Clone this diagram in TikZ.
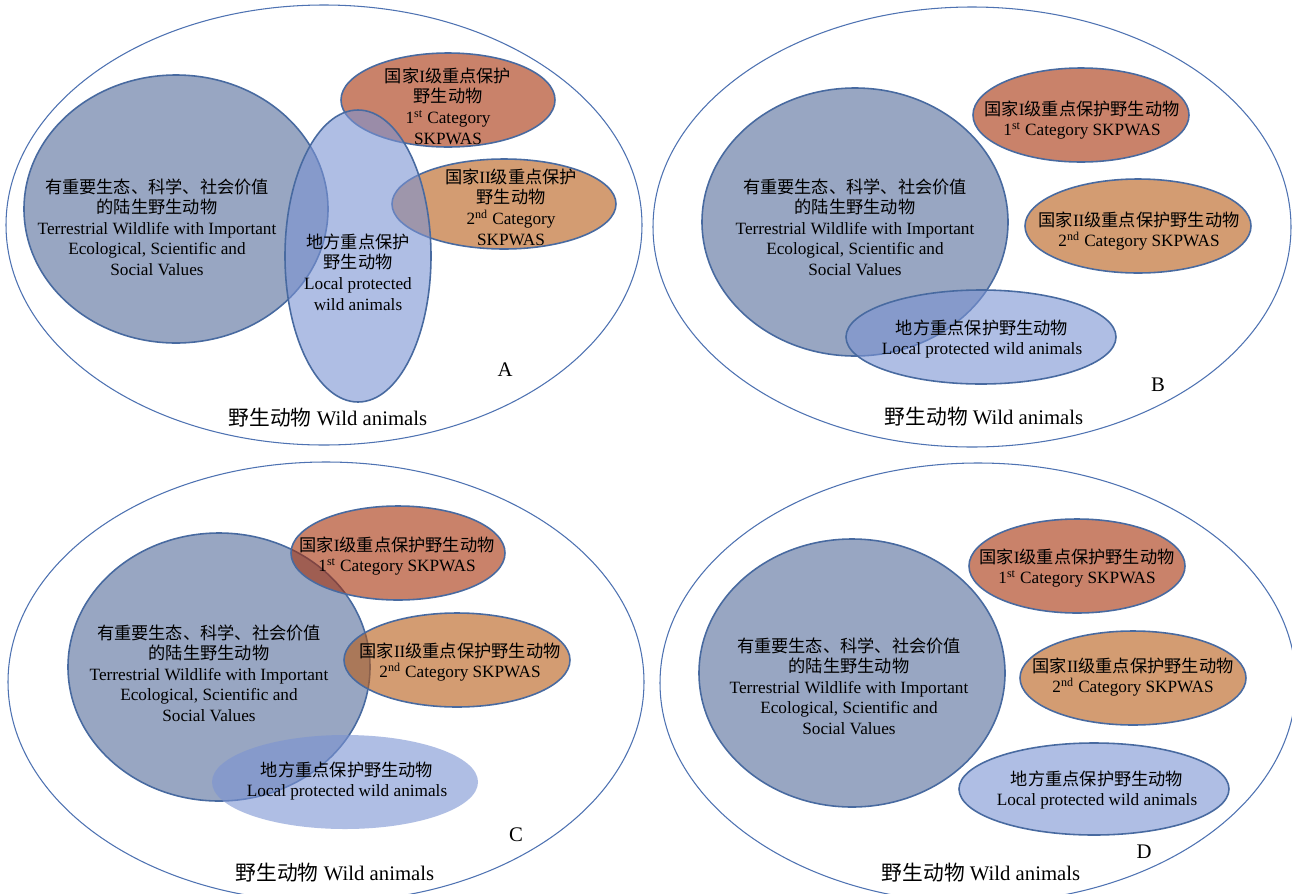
\documentclass[tikz,border=0pt]{standalone}
\usepackage{fontspec}
\setmainfont{Liberation Serif}
\newfontfamily\cjk{Noto Sans CJK SC}
\newcommand\zh[1]{{\cjk #1}}
\usepackage{xcolor}
\definecolor{mring}{RGB}{78,114,178}
\definecolor{medge}{RGB}{72,106,160}
\definecolor{mslate}{RGB}{152,166,194}
\definecolor{mterra}{RGB}{165,47,8}
\definecolor{mtan}{RGB}{183,90,20}
\definecolor{mlilac}{RGB}{123,147,210}

% texts used in panels B, C and D
\newcommand\valtext{\zh{有重要生态、科学、社会价值}\\\zh{的陆生野生动物}\\Terrestrial Wildlife with Important\\Ecological, Scientific and\\Social Values}
\newcommand\firsttext{\zh{国家}I\zh{级重点保护野生动物}\\1\textsuperscript{st} Category SKPWAS}
\newcommand\secondtext{\zh{国家}II\zh{级重点保护野生动物}\\2\textsuperscript{nd} Category SKPWAS}
\newcommand\localtext{\zh{地方重点保护野生动物}\\Local protected wild animals}
\newcommand\wildtext{\zh{野生动物} Wild animals}

\begin{document}
\begin{tikzpicture}[x=0.02cm,y=-0.02cm,
  outer/.style={draw=mring,line width=0.6pt},
  value/.style={draw=medge,fill=mslate,line width=0.9pt},
  first/.style={draw=medge,fill=mterra,fill opacity=0.6,line width=0.9pt},
  second/.style={draw=medge,fill=mtan,fill opacity=0.6,line width=0.9pt},
  local/.style={draw=medge,fill=mlilac,fill opacity=0.6,line width=0.9pt},
  txt/.style={font=\fontsize{9.8}{11.7}\selectfont,align=center,inner sep=0pt},
  title/.style={font=\fontsize{11.8}{14}\selectfont,inner sep=0pt}
]
\clip (0,0) rectangle (1292,893);
\fill[white] (0,0) rectangle (1292,893);

% panel A
\draw[outer]  (324,225) ellipse [x radius=318, y radius=220];
\draw[value]  (176,209) ellipse [x radius=152, y radius=134];
\draw[first]  (448,100) ellipse [x radius=107, y radius=47];
\draw[second] (504,204) ellipse [x radius=112, y radius=45];
\draw[local]  (358,256) ellipse [x radius=73, y radius=146];
\node[txt] (valA)    at (157,227) {\zh{有重要生态、科学、社会价值}\\\zh{的陆生野生动物}\\Terrestrial Wildlife with Important\\Ecological, Scientific and\\Social Values};
\node[txt] (firstA)  at (448,106) {\zh{国家}I\zh{级重点保护}\\\zh{野生动物}\\1\textsuperscript{st} Category\\SKPWAS};
\node[txt] (secondA) at (511,207) {\zh{国家}II\zh{级重点保护}\\\zh{野生动物}\\2\textsuperscript{nd} Category\\SKPWAS};
\node[txt] (localA)  at (358,272) {\zh{地方重点保护}\\\zh{野生动物}\\Local protected\\wild animals};
\node[title] (tagA)  at (505,370) {A};
\node[title] (wildA) at (328,418) {\wildtext};

% panel B
\draw[outer]  (972,227) ellipse [x radius=319, y radius=220];
\draw[value]  (855,222) ellipse [x radius=153, y radius=134];
\draw[first]  (1081,115) ellipse [x radius=108, y radius=47];
\draw[second] (1138,226) ellipse [x radius=113, y radius=47];
\draw[local]  (981,337) ellipse [x radius=135, y radius=47];
\node[txt] (valB)    at (855,227)  {\valtext};
\node[txt] (firstB)  at (1082,120) {\firsttext};
\node[txt] (secondB) at (1139,231) {\secondtext};
\node[txt] (localB)  at (982,339)  {\localtext};
\node[title] (tagB)  at (1158,385) {B};
\node[title] (wildB) at (984,417)  {\wildtext};

% panel C
\draw[outer]  (326,682) ellipse [x radius=318, y radius=220];
\draw[value]  (219,667) ellipse [x radius=151, y radius=134];
\draw[first]  (398,553) ellipse [x radius=107, y radius=47];
\draw[second] (457,660) ellipse [x radius=113, y radius=47];
\fill[mlilac,fill opacity=0.6] (345,782) ellipse [x radius=133, y radius=47];
\node[txt] (valC)    at (209,673) {\valtext};
\node[txt] (firstC)  at (397,556) {\firsttext};
\node[txt] (secondC) at (460,662) {\secondtext};
\node[txt] (localC)  at (347,781) {\localtext};
\node[title] (tagC)  at (516,835) {C};
\node[title] (wildC) at (335,873) {\wildtext};

% panel D
\draw[outer]  (978,683) ellipse [x radius=318, y radius=220];
\draw[value]  (852,673) ellipse [x radius=153, y radius=134];
\draw[first]  (1077,566) ellipse [x radius=108, y radius=47];
\draw[second] (1133,678) ellipse [x radius=113, y radius=47];
\draw[local]  (1094,789) ellipse [x radius=135, y radius=46];
\node[txt] (valD)    at (849,686)  {\valtext};
\node[txt] (firstD)  at (1077,568) {\firsttext};
\node[txt] (secondD) at (1133,677) {\secondtext};
\node[txt] (localD)  at (1097,790) {\localtext};
\node[title] (tagD)  at (1144,852) {D};
\node[title] (wildD) at (981,873)  {\wildtext};
\end{tikzpicture}
\end{document}
